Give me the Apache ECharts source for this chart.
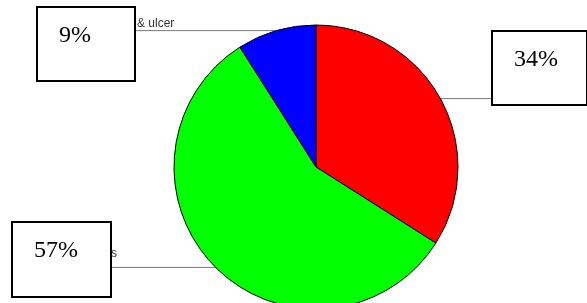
<!DOCTYPE html>
<html>
<head>
<meta charset="utf-8">
<script src="https://cdn.jsdelivr.net/npm/echarts@6/dist/echarts.min.js"></script>
<style>
  html, body { margin: 0; padding: 0; background: #fff; }
  #chart { width: 587px; height: 303px; }
</style>
</head>
<body>
<div id="chart"></div>
<script>
// slices, clockwise from 12 o'clock
const values = [34, 57, 9]
// only the tail of each category name shows from under its box
const names = ['', 's', '& ulcer']
const colors = ['#FF0000', '#00FF00', '#0000FF']

// percentage boxes: left, top, width, height
const boxes = [
  [493, 32, 93, 72],
  [13, 223, 97, 73],
  [38, 8, 96, 72]
]
// where the name tails sit (left, top)
const namePos = [[0, 0], [111, 248], [137, 18]]

const center = [316, 167]
const radius = 142

const chart = echarts.init(document.getElementById('chart'))

const pieData = values.map((v, i) => ({ value: v, name: names[i] }))

function boxLayout(params) {
  const b = boxes[params.dataIndex]
  const p0 = params.labelLinePoints[0]
  // line runs flat from the rim to the near side of the box
  const endX = p0[0] > center[0] ? b[0] : b[0] + b[2]
  return {
    x: b[0],
    y: b[1],
    align: 'left',
    verticalAlign: 'top',
    width: b[2] - 21,
    height: b[3] - 12,
    labelLinePoints: [p0, p0, [endX, p0[1]]]
  }
}

function nameLayout(params) {
  const p = namePos[params.dataIndex]
  return { x: p[0], y: p[1], align: 'left', verticalAlign: 'top' }
}

chart.setOption({
  animation: false,
  color: colors,
  series: [
    {
      type: 'pie',
      center: center,
      radius: radius,
      startAngle: 90,
      clockwise: true,
      avoidLabelOverlap: false,
      silent: true,
      data: pieData,
      itemStyle: { borderColor: '#000', borderWidth: 1 },
      label: {
        show: true,
        position: 'outside',
        formatter: p => Math.round(p.percent) + '%',
        fontFamily: 'Liberation Serif',
        fontSize: 24,
        lineHeight: 32,
        color: '#000',
        backgroundColor: '#fff',
        borderColor: '#000',
        borderWidth: 2,
        padding: [12, 0, 0, 21]
      },
      labelLine: {
        show: true,
        length: 0,
        length2: 0,
        lineStyle: { color: '#777', width: 1 }
      },
      labelLayout: boxLayout
    },
    {
      type: 'pie',
      center: center,
      radius: radius,
      startAngle: 90,
      clockwise: true,
      avoidLabelOverlap: false,
      silent: true,
      data: pieData,
      itemStyle: { color: 'transparent', borderWidth: 0 },
      label: {
        show: true,
        position: 'outside',
        formatter: '{b}',
        fontFamily: 'Liberation Sans',
        fontSize: 12,
        color: '#333'
      },
      labelLine: { show: false },
      labelLayout: nameLayout
    }
  ]
})
</script>
</body>
</html>
